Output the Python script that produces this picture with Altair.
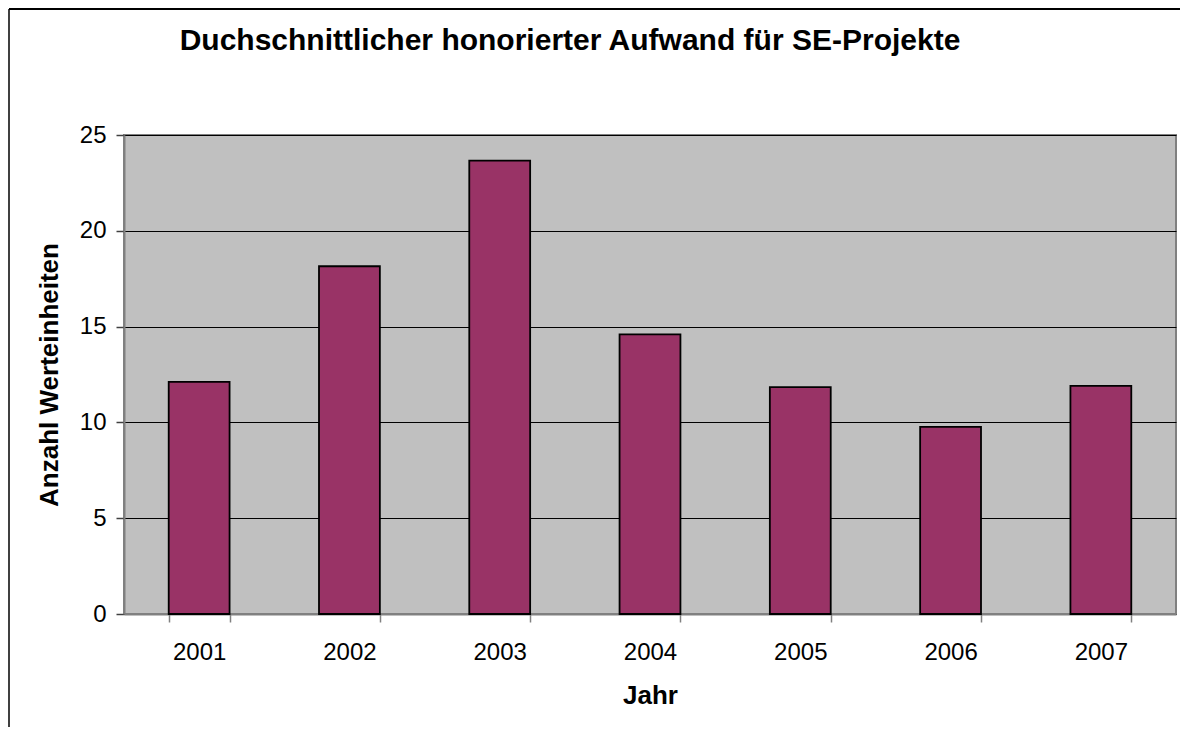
import altair as alt
import pandas as pd

years = ["2001", "2002", "2003", "2004", "2005", "2006", "2007"]
values = [12.12, 18.15, 23.66, 14.59, 11.84, 9.77, 11.91]

df = pd.DataFrame({"Jahr": years, "Wert": values})

FONT = "Liberation Sans, Arial, Helvetica, sans-serif"
W, H = 1052, 479

bars = alt.Chart(df).mark_bar(
    color="#993366", stroke="#000000", strokeWidth=1.8
).encode(
    x=alt.X(
        "Jahr:N",
        title="Jahr",
        scale=alt.Scale(paddingInner=0.595, paddingOuter=0.2975),
        axis=alt.Axis(
            labelAngle=0,
            labelFontSize=24,
            labelColor="#000000",
            labelPadding=18,
            titleFontSize=26,
            titleFontWeight="bold",
            titlePadding=18,
            titleColor="#000000",
            tickBand="extent",
            tickSize=8,
            tickColor="#808080",
            tickWidth=1.5,
            domainColor="#808080",
            domainWidth=2,
            grid=False,
        ),
    ),
    y=alt.Y(
        "Wert:Q",
        title="Anzahl Werteinheiten",
        scale=alt.Scale(domain=[0, 25], nice=False),
        axis=alt.Axis(
            values=[0, 5, 10, 15, 20, 25],
            labelFontSize=24,
            labelColor="#000000",
            labelPadding=10,
            titleFontSize=26,
            titleFontWeight="bold",
            titlePadding=17,
            titleColor="#000000",
            tickSize=8,
            tickColor="#404040",
            tickWidth=1.5,
            domainColor="#808080",
            domainWidth=2,
            grid=True,
            gridColor="#000000",
            gridWidth=1.2,
        ),
    ),
)

frame_left = alt.Chart(df).mark_rule(color="#404040", strokeWidth=2).encode(
    x=alt.value(-115), y=alt.value(-126), y2=alt.value(H + 120)
)
frame_top = alt.Chart(df).mark_rule(color="#000000", strokeWidth=2).encode(
    x=alt.value(-115), x2=alt.value(W + 10), y=alt.value(-126)
)

chart = alt.layer(bars, frame_left, frame_top).properties(
    width=W,
    height=H,
    autosize=alt.AutoSizeParams(type="none"),
    padding={"left": 116, "top": 127, "right": 4, "bottom": 113},
    title=alt.TitleParams(
        "Duchschnittlicher honorierter Aufwand für SE-Projekte",
        fontSize=30,
        fontWeight="bold",
        font=FONT,
        color="#000000",
        anchor="middle",
        frame="group",
        dx=-80,
        dy=72,
        baseline="alphabetic",
        offset=0,
    ),
).configure(
    font=FONT,
    background="#ffffff",
).configure_view(
    fill="#C0C0C0", stroke="#808080", strokeWidth=2
).configure_axis(
    labelFont=FONT, titleFont=FONT
)

chart.save("out.html", embed_options={"renderer": "svg", "actions": False})
